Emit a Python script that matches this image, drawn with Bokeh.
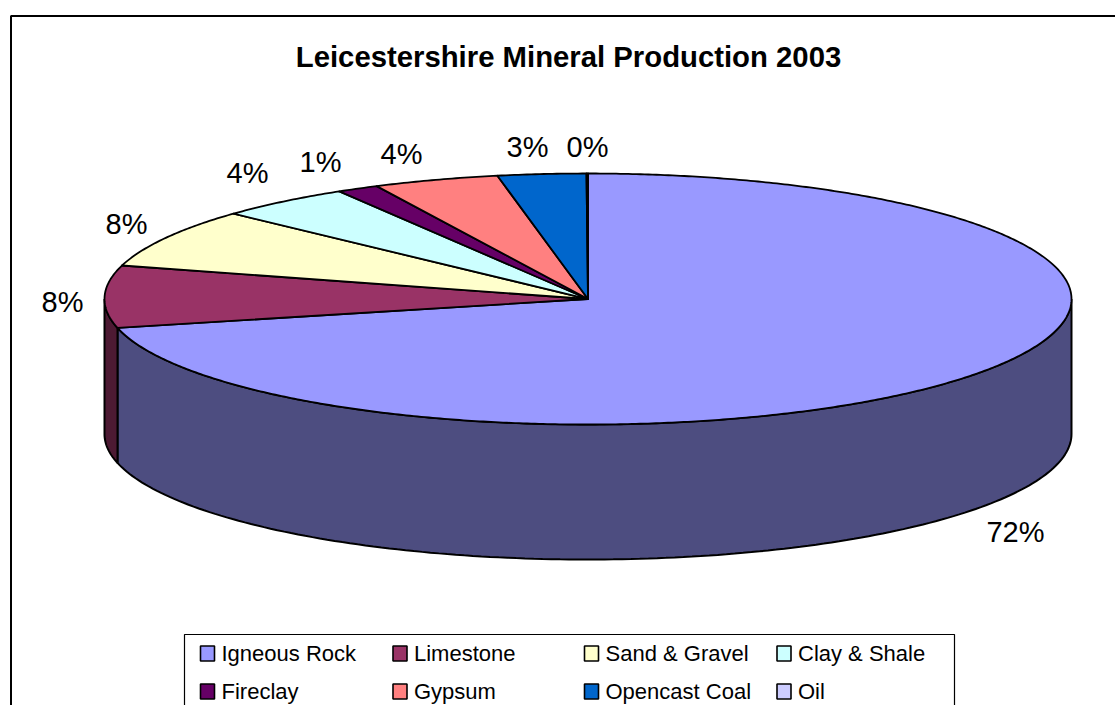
import numpy as np
from bokeh.plotting import figure
from bokeh.core.properties import value
from bokeh.embed import file_html
from bokeh.resources import INLINE

TITLE = "Leicestershire Mineral Production 2003"
categories = ["Igneous Rock", "Limestone", "Sand & Gravel", "Clay & Shale",
              "Fireclay", "Gypsum", "Opencast Coal", "Oil"]
shares = [71.3, 8.0, 7.6, 4.5, 1.4, 4.2, 2.95, 0.05]
share_labels = ["72%", "8%", "8%", "4%", "1%", "4%", "3%", "0%"]
top_colors = ["#9999FF", "#993366", "#FFFFCC", "#CCFFFF",
              "#660066", "#FF8080", "#0066CC", "#CCCCFF"]
side_colors = ["#4D4D80", "#4D1A33", "#808066", "#668080",
               "#330033", "#804040", "#003366", "#666680"]

# layout, in picture pixels
W, H = 1115, 705
CX, CY, RX, RY, DEPTH = 587.5, 298.5, 483.5, 125.5, 135
LABEL_X = [1015, 62, 126, 247, 320, 401, 527, 587]
LABEL_Y = [531, 301, 223, 172, 161, 153, 146, 146]
LEG_X = [200, 392.5, 584, 776.5]
LEG_Y = [653, 691]
LEG_TXT_OFF = 21
LEG_BOX = (184, 634, 954, 720)

p = figure(width=W, height=H, x_range=(0, W), y_range=(H, 0),
           toolbar_location=None, output_backend="svg", min_border=0,
           outline_line_color=None, background_fill_color="white",
           border_fill_color="white")
p.axis.visible = False
p.grid.visible = False

# chart frame, running past the right and bottom of the picture
p.line([10.5, 10.5, 1130], [740, 15.5, 15.5], line_color="black", line_width=2)

edges = np.cumsum([0] + shares) / sum(shares) * 2 * np.pi


def ex(a):
    return CX + RX * np.sin(a)


def ey(a):
    return CY - RY * np.cos(a)


# side wall: only the front half of the drum is seen
for i in range(len(shares)):
    a0 = max(edges[i], np.pi / 2)
    a1 = min(edges[i + 1], 1.5 * np.pi)
    if a1 <= a0:
        continue
    t = np.linspace(a0, a1, 160)
    xs = np.concatenate([ex(t), ex(t[::-1])])
    ys = np.concatenate([ey(t), ey(t[::-1]) + DEPTH])
    p.patch(list(xs) + [xs[0]], list(ys) + [ys[0]], fill_color=side_colors[i],
            line_color="black", line_width=2)

# top face
for i in range(len(shares)):
    n = max(int((edges[i + 1] - edges[i]) * 120), 4)
    t = np.linspace(edges[i], edges[i + 1], n)
    xs = np.concatenate([[CX], ex(t), [CX]])
    ys = np.concatenate([[CY], ey(t), [CY]])
    p.patch(xs, ys, fill_color=top_colors[i], line_color="black", line_width=1.8,
            line_join="round")

p.text([568], [55.5], text=[TITLE], text_font=value("Liberation Sans"),
       text_font_style="bold", text_font_size="29.3px", text_color="black",
       text_align="center", text_baseline="middle")

p.text(LABEL_X, LABEL_Y, text=share_labels, text_font=value("Liberation Sans"),
       text_font_size="29px", text_color="black",
       text_align="center", text_baseline="middle")

# legend
x0, y0, x1, y1 = LEG_BOX
p.line([x0, x0, x1, x1], [y1, y0, y0, y1], line_color="black", line_width=1.2)
for i, name in enumerate(categories):
    lx = LEG_X[i % 4]
    ly = LEG_Y[i // 4]
    p.rect([lx + 7], [ly], width=14, height=15, fill_color=top_colors[i],
           line_color="black", line_width=1.6)
    p.text([lx + LEG_TXT_OFF], [ly], text=[name], text_font=value("Liberation Sans"),
           text_font_size="22px", text_color="black",
           text_align="left", text_baseline="middle")

open("out.html", "w").write(file_html(p, INLINE))
